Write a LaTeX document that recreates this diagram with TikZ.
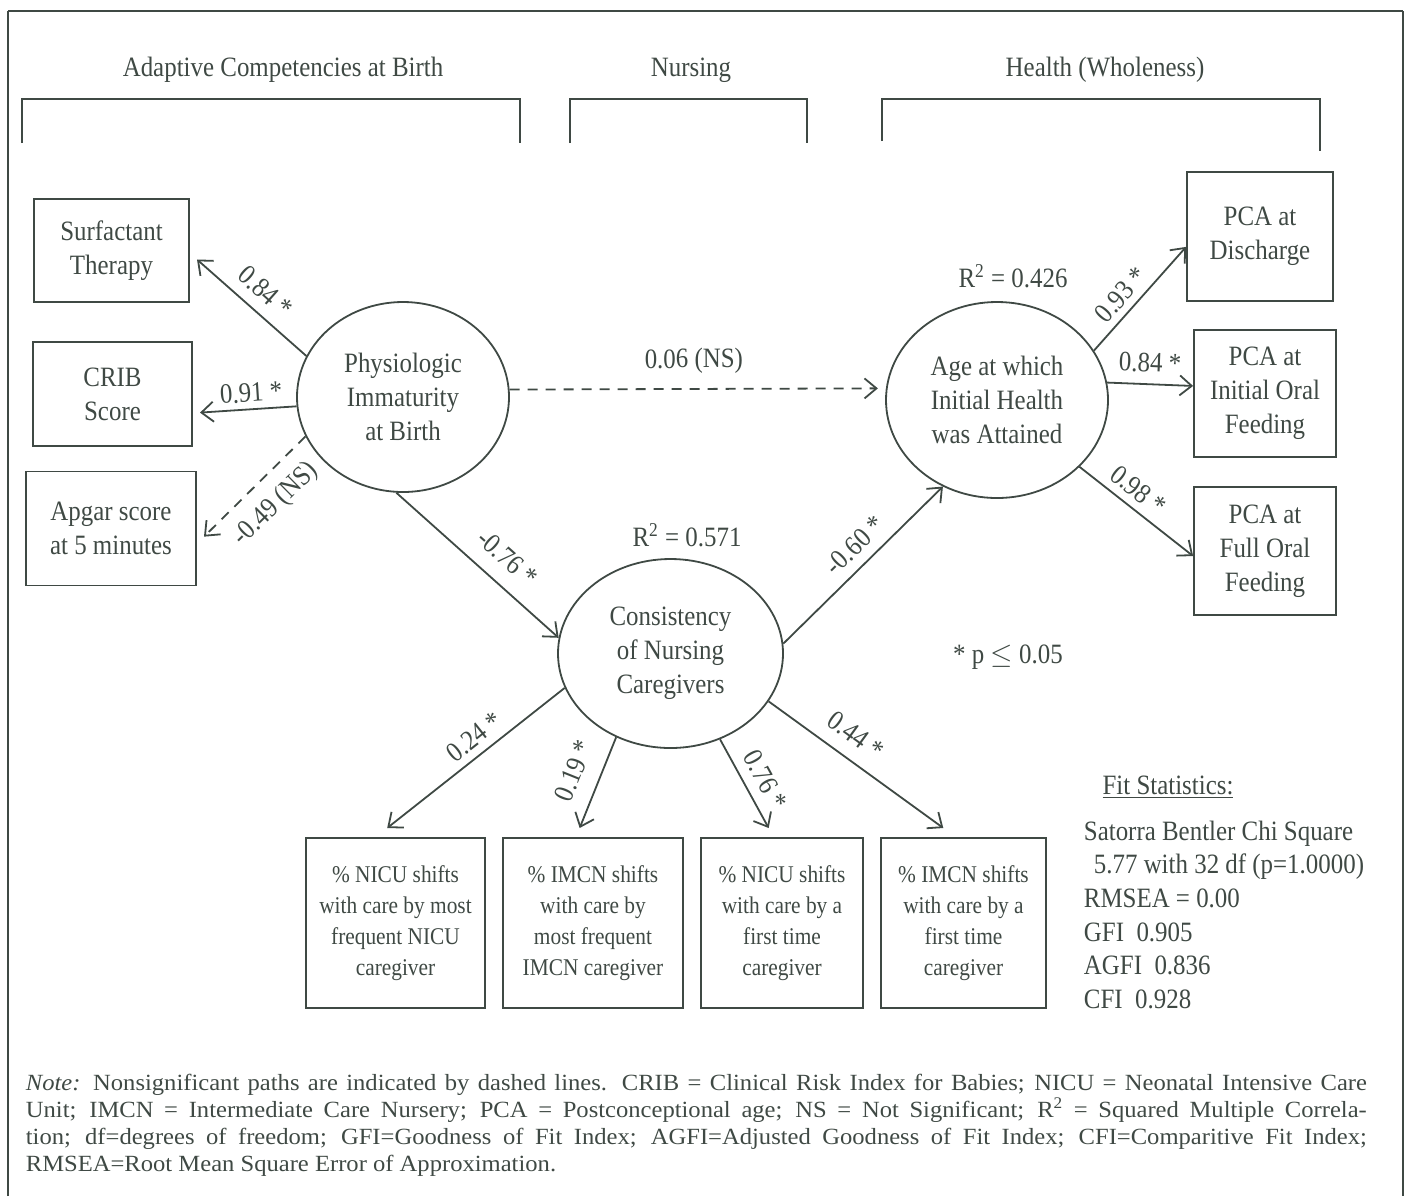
\documentclass[tikz,border=0pt]{standalone}
\usepackage{fontspec}
\setmainfont{Liberation Serif}[FakeStretch=0.89]
\newfontfamily\notefont{Liberation Serif}[FakeStretch=1.06]
\usetikzlibrary{arrows.meta,shapes.geometric}
\definecolor{ink}{HTML}{3F4944}

\begin{document}
\begin{tikzpicture}[x=0.5pt, y=-0.5pt, font=\fontsize{14}{17}\selectfont, color=ink, line width=0.9pt]
    \tikzstyle{obs} = [draw, rectangle, align=center, inner sep=0pt]
    \tikzstyle{lat} = [draw, ellipse, align=center, inner sep=0pt]
    \tikzstyle{ind} = [obs, minimum height=85pt, outer ysep=5pt, font=\fontsize{12}{15.5}\selectfont]
    \tikzstyle{arr} = [-{Straight Barb[length=6pt,width=10pt]}]
    \tikzstyle{ns} = [arr, dash pattern=on 5pt off 4pt]
    \tikzstyle{lab} = [sloped, inner sep=0pt]
    \useasboundingbox (0,0) rectangle (1407,1196);
    \draw[line width=1.4pt] (8,11) -- (1403,11);
    \draw (8,1196) -- (8,11);
    \draw (1403,11) -- (1403,1196);
    \node (hadapt) at (283,70) {Adaptive Competencies at Birth};
    \node (hnurse) at (691,70) {Nursing};
    \node (hhealth) at (1105,70) {Health (Wholeness)};
    \draw (22,143) -- (22,99) -- (520,99) -- (520,143);
    \draw (570,143) -- (570,99) -- (807,99) -- (807,143);
    \draw (882,141) -- (882,99) -- (1320,99) -- (1320,151);
    \node[obs, minimum width=77.5pt, minimum height=51.5pt, outer xsep=4pt] (surf) at (111.5,250.5) {Surfactant\\Therapy};
    \node[obs, minimum width=79.5pt, minimum height=52pt, outer xsep=4pt] (crib) at (112.5,394) {CRIB\\Score};
    \node[obs, minimum width=85pt, minimum height=57pt, outer xsep=4pt] (apgar) at (111,528.5) {Apgar score\\at 5 minutes};
    \node[lat, minimum width=106pt, minimum height=95pt] (phys) at (403,397) {Physiologic\\Immaturity\\at Birth};
    \node[lat, minimum width=112.5pt, minimum height=94.5pt] (cons) at (670.5,653.5) {Consistency\\of Nursing\\Caregivers};
    \node[lat, minimum width=111pt, minimum height=98pt] (age) at (997,400) {Age at which\\Initial Health\\was Attained};
    \node[obs, minimum width=73pt, minimum height=64.5pt] (disc) at (1260,236.5) {PCA at\\Discharge};
    \node[obs, minimum width=71pt, minimum height=63.5pt] (init) at (1265,393.5) {PCA at\\Initial Oral\\Feeding};
    \node[obs, minimum width=71pt, minimum height=64pt] (full) at (1265,551) {PCA at\\Full Oral\\Feeding};
    \node[ind, minimum width=89.5pt] (nicumost) at (395.5,923) {\% NICU shifts\\with care by most\\frequent NICU\\caregiver};
    \node[ind, minimum width=90pt] (imcnmost) at (593,923) {\% IMCN shifts\\with care by\\most frequent\\IMCN caregiver};
    \node[ind, minimum width=81pt] (nicufirst) at (782,923) {\% NICU shifts\\with care by a\\first time\\caregiver};
    \node[ind, minimum width=82.5pt] (imcnfirst) at (963.5,923) {\% IMCN shifts\\with care by a\\first time\\caregiver};
    \node (rcons) at (687,535) {R\textsuperscript{2} = 0.571};
    \node (rage) at (1013,276) {R\textsuperscript{2} = 0.426};
    \node (sig) at (1008,657) {* p $\leq$ 0.05};
    \draw[arr] (phys.157) -- node[lab, above=5.6pt, pos=0.5] {0.84 *} (surf.-6.3);
    \draw[arr] (phys.185.9) -- node[lab, above=3pt, pos=0.46] {0.91 *} (crib.-12.3);
    \draw[ns] (phys.202) -- node[lab, below=7pt, pos=0.48] {-0.49 (NS)} (apgar.-5.8);
    \draw[arr] (phys.266.2) -- node[lab, above=7.6pt, pos=0.58] {-0.76 *} (cons.172.2);
    \draw[ns, shorten >=4pt] (phys.4.9) -- node[lab, above=7.1pt, pos=0.49] {0.06 (NS)} (age.174.2);
    \draw[arr] (cons.5.8) -- node[lab, above=4.8pt, pos=0.535] {-0.60 *} (age.238.6);
    \draw[arr] (age.27.8) -- node[lab, above=3.3pt, pos=0.43] {0.93 *} (disc.188.2);
    \draw[arr] (age.9.2) -- node[lab, above=5.5pt, pos=0.49] {0.84 *} (init.174.8);
    \draw[arr] (age.-39.9) -- node[lab, above=3.8pt, pos=0.42] {0.98 *} (full.184.8);
    \draw[arr] (cons.198) -- node[lab, above=3.7pt, pos=0.447] {0.24 *} (nicumost.95.7);
    \draw[arr] (cons.237.8) -- node[lab, above=8.3pt, pos=0.48] {0.19 *} (imcnmost.98.3);
    \draw[arr] (cons.300.2) -- node[lab, above=4.8pt, pos=0.566] {0.76 *} (nicufirst.98.3);
    \draw[arr] (cons.334.5) -- node[lab, above=6.8pt, pos=0.42] {0.44 *} (imcnfirst.102.6);
    \node (fittitle) at (1168,787) {\underline{Fit Statistics:}};
    \node[anchor=north west, align=left, font=\fontsize{14}{16.8}\selectfont, inner sep=0pt] (fit) at (1083,820) {Satorra Bentler Chi Square\\\hspace*{5pt}5.77 with 32 df (p=1.0000)\\RMSEA = 0.00\\GFI~ 0.905\\AGFI~ 0.836\\CFI~ 0.928};
    \node[anchor=north west, align=left, font=\notefont\fontsize{11.6}{13.5}\selectfont, inner sep=0pt] (note) at (25,1073) {\makebox[670.5pt][s]{\textit{Note:} Nonsignificant paths are indicated by dashed lines. CRIB = Clinical Risk Index for Babies; NICU = Neonatal Intensive Care}\\\makebox[670.5pt][s]{Unit; IMCN = Intermediate Care Nursery; PCA = Postconceptional age; NS = Not Significant; R\textsuperscript{2} = Squared Multiple Correla-}\\\makebox[670.5pt][s]{tion; df=degrees of freedom; GFI=Goodness of Fit Index; AGFI=Adjusted Goodness of Fit Index; CFI=Comparitive Fit Index;}\\RMSEA=Root Mean Square Error of Approximation.};
\end{tikzpicture}
\end{document}
